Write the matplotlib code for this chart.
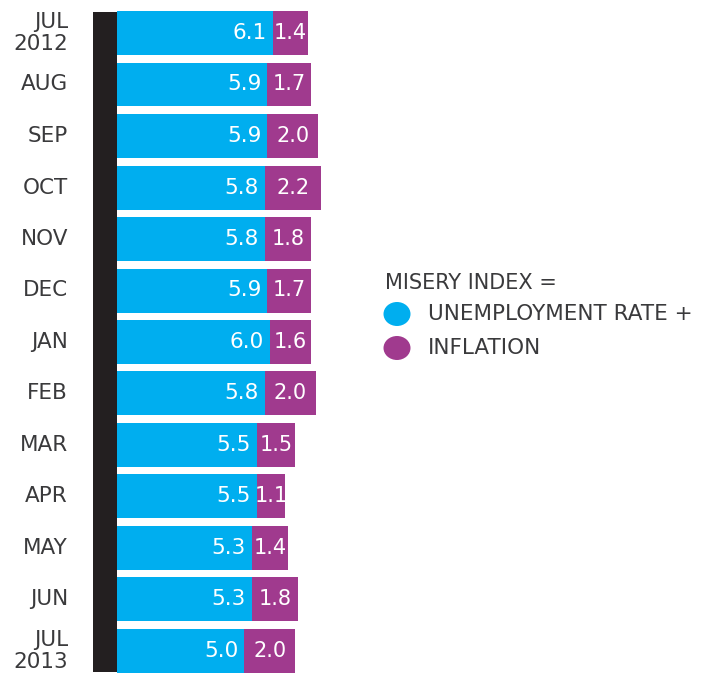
import matplotlib.pyplot as plt
from matplotlib.patches import Rectangle, Ellipse

# ============================================================
# Data
# ============================================================

months = ["JUL\n2012", "AUG", "SEP", "OCT", "NOV", "DEC", "JAN",
          "FEB", "MAR", "APR", "MAY", "JUN", "JUL\n2013"]
unemployment = [6.1, 5.9, 5.9, 5.8, 5.8, 5.9, 6.0, 5.8, 5.5, 5.5, 5.3, 5.3, 5.0]
inflation = [1.4, 1.7, 2.0, 2.2, 1.8, 1.7, 1.6, 2.0, 1.5, 1.1, 1.4, 1.8, 2.0]

# ============================================================
# Style
# ============================================================

BLUE = "#00AEEF"
PURPLE = "#A03A8E"
DARK = "#231F20"
GREY = "#3A3A3C"
plt.rcParams["font.family"] = ["DejaVu Sans"]

W, H = 704, 679
PX_PER_UNIT = 25.5
X0 = 117          # pixel where value 0 sits
Y0 = 33           # pixel centre of first bar
PITCH = 51.5

fig = plt.figure(figsize=(W / 100, H / 100), dpi=100)
ax = fig.add_axes([0, 0, 1, 1])
ax.set_xlim(-X0 / PX_PER_UNIT, (W - X0) / PX_PER_UNIT)
ax.set_ylim((H - Y0) / PITCH, -Y0 / PITCH)
ax.axis("off")

ypos = list(range(len(months)))
bar_h = 44 / PITCH

ax.barh(ypos, unemployment, height=bar_h, color=BLUE, linewidth=0)
ax.barh(ypos, inflation, left=unemployment, height=bar_h, color=PURPLE, linewidth=0)

for i, (u, f, m) in enumerate(zip(unemployment, inflation, months)):
    ax.text(u - 0.24, i, f"{u:.1f}", color="white", fontsize=15.5,
            ha="right", va="center")
    ax.text(u + f / 2, i, f"{f:.1f}", color="white", fontsize=15,
            ha="center", va="center")
    ax.text(-49 / PX_PER_UNIT, i, m, color=GREY, fontsize=15.5,
            ha="right", va="center", multialignment="right", linespacing=1.12)

# black axis bar
fig.add_artist(Rectangle((93 / W, 1 - 672 / H), 24 / W, 660 / H,
                         transform=fig.transFigure, color=DARK, lw=0))

# legend
fig.text(385 / W, 1 - 283 / H, "MISERY INDEX =", color=GREY, fontsize=15,
         ha="left", va="center")
for yy, col, lab in [(314, BLUE, "UNEMPLOYMENT RATE +"), (348, PURPLE, "INFLATION")]:
    fig.add_artist(Ellipse((397 / W, 1 - yy / H), 27 / W, 24 / H,
                           transform=fig.transFigure, color=col, lw=0))
    fig.text(428 / W, 1 - yy / H, lab, color=GREY, fontsize=15.5,
             ha="left", va="center")

fig.savefig("out.png", dpi=100)
